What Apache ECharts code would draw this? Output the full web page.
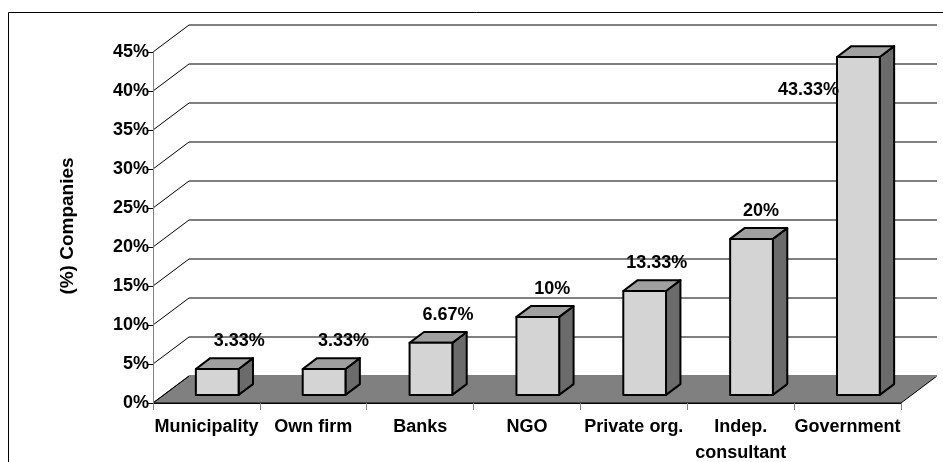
<!DOCTYPE html>
<html>
<head>
<meta charset="utf-8">
<script src="https://cdn.jsdelivr.net/npm/echarts@6/dist/echarts.min.js"></script>
<style>
  html, body { margin: 0; padding: 0; background: #fff; }
  #chart { width: 943px; height: 462px; }
</style>
</head>
<body>
<div id="chart"></div>
<script>
// Who prepared the companies' plans, share of companies (%)
const categories = ['Municipality', 'Own firm', 'Banks', 'NGO', 'Private org.', 'Indep.\nconsultant', 'Government'];
const shares = [3.33, 3.33, 6.67, 10, 13.33, 20, 43.33];
const yTicks = [0, 5, 10, 15, 20, 25, 30, 35, 40, 45];

const FONT = '"Liberation Sans", Arial, sans-serif';
// Oblique projection of the depth axis (pixels the back plane is shifted by)
const DEPTH_X = 36;
const DEPTH_Y = 27;
// Bar placement along the depth axis and across each category slot
const BAR_FRONT = 0.3;
const BAR_DEPTH = 0.4;
const BAR_WIDTH = 0.4;

const chart = echarts.init(document.getElementById('chart'), null, { renderer: 'canvas' });

// Back wall grid line: a short diagonal from the value axis, then across the back plane
function renderWallLine(params, api) {
  const cs = params.coordSys;
  const y = api.coord([0, api.value(1)])[1];
  const x0 = cs.x;
  const x1 = cs.x + cs.width;
  return {
    type: 'group',
    children: [
      { type: 'line', shape: { x1: x0, y1: y, x2: x0 + DEPTH_X, y2: y - DEPTH_Y },
        style: { stroke: '#000', lineWidth: 1 } },
      { type: 'line', shape: { x1: x0 + DEPTH_X, y1: y - DEPTH_Y, x2: x1 + DEPTH_X, y2: y - DEPTH_Y },
        style: { stroke: '#808080', lineWidth: 2 } }
    ]
  };
}

// Floor of the plot, at the base value
function renderFloor(params, api) {
  const cs = params.coordSys;
  const y = api.coord([0, api.value(1)])[1];
  const x0 = cs.x;
  const x1 = cs.x + cs.width;
  return {
    type: 'polygon',
    shape: { points: [[x0, y], [x1, y], [x1 + DEPTH_X, y - DEPTH_Y], [x0 + DEPTH_X, y - DEPTH_Y]] },
    style: { fill: '#808080', stroke: '#000', lineWidth: 1 }
  };
}

// Box-shaped bar with front, top and side faces plus its value label
function renderBar(params, api) {
  const cs = params.coordSys;
  const idx = api.value(0);
  const v = api.value(1);
  const base = api.coord([idx, 0]);
  const top = api.coord([idx, v]);
  const slot = api.size([1, 0])[0];
  const w = slot * BAR_WIDTH;
  const fx = BAR_FRONT * DEPTH_X, fy = BAR_FRONT * DEPTH_Y;
  const dx = BAR_DEPTH * DEPTH_X, dy = BAR_DEPTH * DEPTH_Y;
  const xl = base[0] - w / 2 + fx;
  const xr = xl + w;
  const yb = base[1] - fy;
  const yt = top[1] - fy;
  const edge = { stroke: '#000', lineWidth: 2, lineJoin: 'round' };

  let lx = (xl + xr) / 2 + (22 - 2.5 * idx);
  let ly = yt - 28;
  let align = 'center';
  if (ly < cs.y) {
    // no room above the plot: put the label beside the bar
    lx = xl + 2;
    ly = yt + 33;
    align = 'right';
  }

  return {
    type: 'group',
    children: [
      { type: 'polygon',
        shape: { points: [[xr, yt], [xr + dx, yt - dy], [xr + dx, yb - dy], [xr, yb]] },
        style: Object.assign({ fill: '#6b6b6b' }, edge) },
      { type: 'polygon',
        shape: { points: [[xl, yt], [xr, yt], [xr + dx, yt - dy], [xl + dx, yt - dy]] },
        style: Object.assign({ fill: '#a0a0a0' }, edge) },
      { type: 'rect',
        shape: { x: xl, y: yt, width: w, height: yb - yt },
        style: Object.assign({ fill: '#d4d4d4' }, edge) },
      { type: 'text',
        style: { text: v + '%', x: lx, y: ly, fill: '#000', align: align, verticalAlign: 'middle',
                 font: 'bold 18px ' + FONT } }
    ]
  };
}

const option = {
  animation: false,
  backgroundColor: '#fff',
  grid: { left: 153, top: 52, width: 748, height: 351, containLabel: false, outerBoundsMode: 'none' },
  xAxis: {
    type: 'category',
    data: categories,
    z: 10,
    axisLine: { show: true, lineStyle: { color: '#000', width: 1 } },
    axisTick: { show: true, length: 7, interval: 0, lineStyle: { color: '#808080' } },
    axisLabel: { interval: 0, margin: 11, color: '#000', fontFamily: FONT, fontWeight: 'bold',
                 fontSize: 18, lineHeight: 26 },
    splitLine: { show: false }
  },
  yAxis: {
    type: 'value',
    min: yTicks[0],
    max: yTicks[yTicks.length - 1],
    interval: yTicks[1] - yTicks[0],
    z: 10,
    axisLine: { show: true, lineStyle: { color: '#808080', width: 1 } },
    axisTick: { show: true, length: 5, lineStyle: { color: '#000' } },
    axisLabel: { formatter: '{value}%', margin: 4, color: '#000', fontFamily: FONT,
                 fontWeight: 'bold', fontSize: 18 },
    splitLine: { show: false }
  },
  graphic: [
    { type: 'rect', z: 0, silent: true,
      shape: { x: 8.5, y: 12.5, width: 1200, height: 1200 },
      style: { fill: 'none', stroke: '#000', lineWidth: 1 } },
    { type: 'text', x: 68, y: 226, rotation: Math.PI / 2, silent: true,
      style: { text: '(%) Companies', fill: '#000', font: 'bold 19px ' + FONT,
               align: 'center', verticalAlign: 'middle' } }
  ],
  series: [
    { type: 'custom', name: 'floor', z: 1, clip: false,
      data: [[0, yTicks[0]]], encode: { x: 0, y: 1 }, renderItem: renderFloor },
    { type: 'custom', name: 'wall', z: 2, clip: false,
      data: yTicks.slice(1).map(t => [0, t]), encode: { x: 0, y: 1 }, renderItem: renderWallLine },
    { type: 'custom', name: 'wallBase', z: 2, clip: false,
      data: [[0, yTicks[0]]], encode: { x: 0, y: 1 }, renderItem: renderWallLine },
    { type: 'custom', name: 'share', z: 3, clip: false,
      data: shares.map((s, i) => [i, s]), encode: { x: 0, y: 1 }, renderItem: renderBar }
  ]
};

chart.setOption(option);
</script>
</body>
</html>
